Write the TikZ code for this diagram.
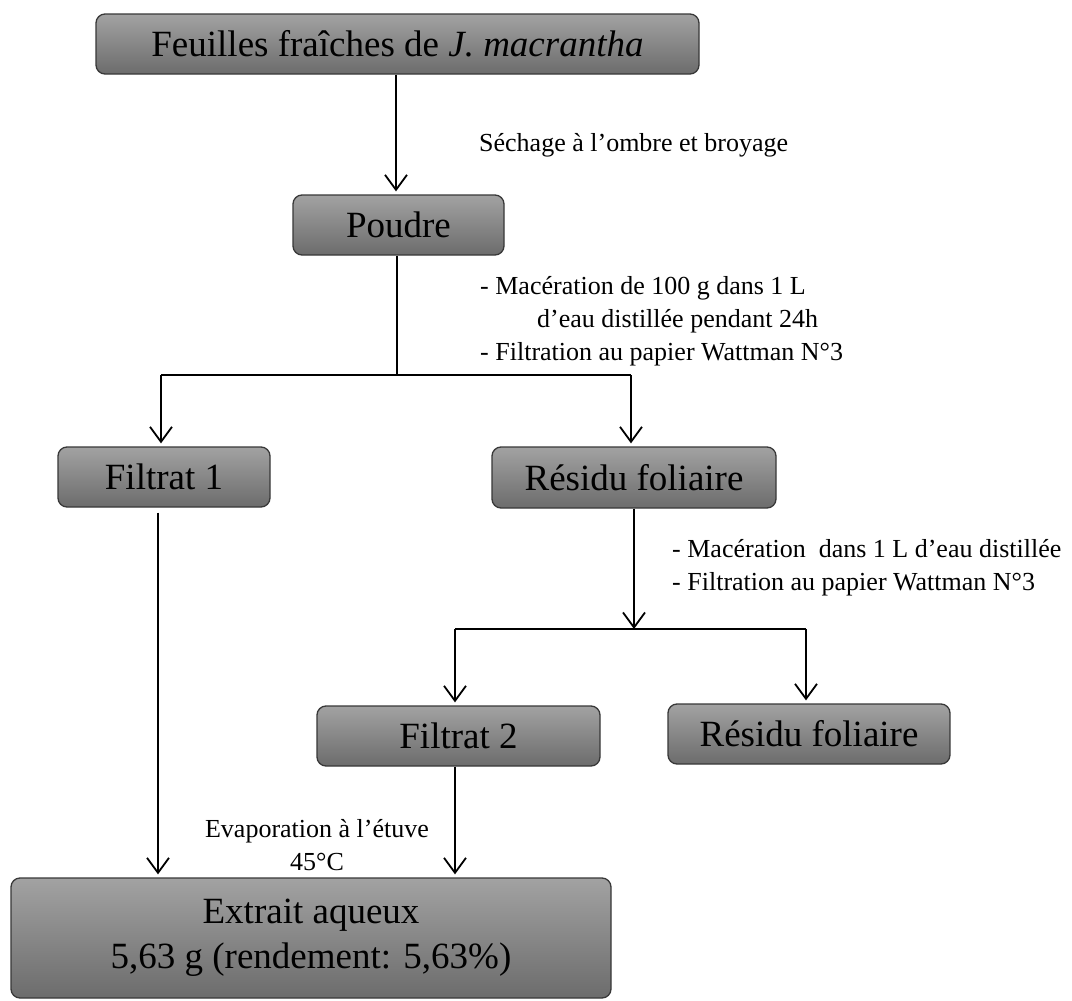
\documentclass[tikz,border=0pt]{standalone}
\usepackage{fontspec}
\setmainfont{Liberation Serif}
\usetikzlibrary{arrows.meta}
\definecolor{boxtop}{HTML}{A2A2A2}
\definecolor{boxbot}{HTML}{6C6C6C}
\definecolor{boxedge}{HTML}{383838}
\begin{document}
\begin{tikzpicture}[x=1pt,y=-1pt,
  procbox/.style={draw=boxedge, line width=1.3pt, rounded corners=9pt,
    top color=boxtop, bottom color=boxbot, inner sep=0pt, text=black,
    font=\fontsize{37}{45}\selectfont},
  lbl/.style={font=\fontsize{26}{32}\selectfont, inner sep=0pt, anchor=base west},
  clbl/.style={font=\fontsize{26}{32}\selectfont, inner sep=0pt, anchor=base},
  conn/.style={line width=1.8pt, draw=black},
  arr/.style={conn, -{Straight Barb[length=15pt,width=22pt]}, shorten >=3pt}]
\useasboundingbox (0,0) rectangle (1072,1001);
% boxes
\node[procbox, minimum width=603pt, minimum height=60pt] (feuilles) at (397.5,44)
  {Feuilles fraîches de \textit{J. macrantha}};
\node[procbox, minimum width=211pt, minimum height=60pt] (poudre) at (398.5,225) {Poudre};
\node[procbox, minimum width=212pt, minimum height=60pt] (filtrat1) at (164,477) {Filtrat 1};
\node[procbox, minimum width=284pt, minimum height=61pt] (residu1) at (634,477.5) {Résidu foliaire};
\node[procbox, minimum width=283pt, minimum height=60pt] (filtrat2) at (458.5,736) {Filtrat 2};
\node[procbox, minimum width=282pt, minimum height=60pt] (residu2) at (809,734) {Résidu foliaire};
\node[procbox, minimum width=600pt, minimum height=120pt, align=center] (extrait) at (311,938)
  {Extrait aqueux\\5,63 g (rendement: 5,63\%)};
% junction coordinates
\coordinate (j1) at (397,375);
\coordinate (j1l) at (161,375);
\coordinate (j1r) at (631,375);
\coordinate (j2) at (634,629);
\coordinate (j2l) at (455,629);
\coordinate (j2r) at (806,629);
% connectors
\draw[arr] (feuilles.south -| 396,0) -- (poudre.north -| 396,0);
\draw[conn] (poudre.south -| j1) -- (j1);
\draw[conn] (j1l) -- (j1r);
\draw[arr] (j1l) -- (j1l |- filtrat1.north);
\draw[arr] (j1r) -- (j1r |- residu1.north);
\draw[arr] ([yshift=-5pt]filtrat1.south -| 158,0) -- (extrait.north -| 158,0);
\draw[arr, shorten >=0pt] (residu1.south) -- (j2);
\draw[conn] (j2l) -- (j2r);
\draw[arr] (j2l) -- (j2l |- filtrat2.north);
\draw[arr] (j2r) -- (j2r |- residu2.north);
\draw[arr] (filtrat2.south -| 455,0) -- (extrait.north -| 455,0);
% labels
\node[lbl] (sechage) at (479,151) {Séchage à l’ombre et broyage};
\node[lbl] (mac1a) at (480,294) {- Macération de 100 g dans 1 L};
\node[lbl] (mac1b) at (537,327) {d’eau distillée pendant 24h};
\node[lbl] (fil1) at (480,360) {- Filtration au papier Wattman N°3};
\node[lbl] (mac2) at (672,557) {- Macération\ \ dans 1 L d’eau distillée};
\node[lbl] (fil2) at (672,590) {- Filtration au papier Wattman N°3};
\node[clbl] (evap) at (317,837) {Evaporation à l’étuve};
\node[clbl] (temp) at (317,870) {45°C};
\end{tikzpicture}
\end{document}
